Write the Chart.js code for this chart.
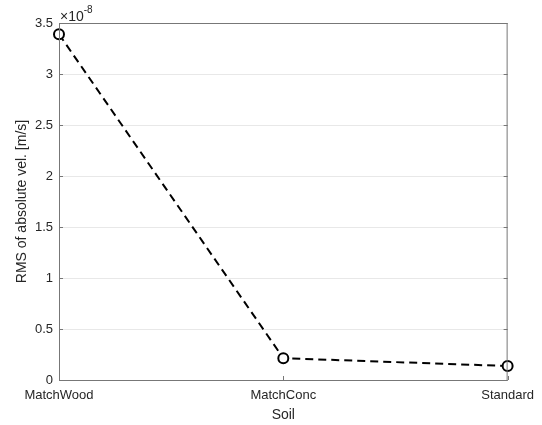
<!DOCTYPE html>
<html>
<head>
<meta charset="utf-8">
<script src="https://cdn.jsdelivr.net/npm/chart.js@4"></script>
<style>
  html, body { margin: 0; padding: 0; background: #fff; }
  #wrap { width: 542px; height: 425px; }
</style>
</head>
<body>
<div id="wrap"><canvas id="myChart" width="542" height="425"></canvas></div>
<script>
// data (values in units of 1e-8 m/s)
const soils = ['MatchWood', 'MatchConc', 'Standard'];
const rmsVel = [3.39, 0.214, 0.137];
const yTicks = [0, 0.5, 1, 1.5, 2, 2.5, 3, 3.5];
const exponent = '-8';

const axisColor = '#262626';
const boxColor = '#777777';
const fontFam = 'Liberation Sans, Arial, Helvetica, sans-serif';

// box, inward ticks and the x10^-8 label, like matlab
const matlabAxes = {
    id: 'matlabAxes',
    afterDraw(chart) {
        const c = chart.ctx;
        const a = chart.chartArea;
        const x = chart.scales.x;
        const y = chart.scales.y;
        c.save();
        c.strokeStyle = boxColor;
        c.lineWidth = 1;
        c.strokeRect(a.left + 0.5, a.top + 0.5, a.right - a.left - 1, a.bottom - a.top);
        c.beginPath();
        soils.forEach((s, i) => {
            const px = Math.round(x.getPixelForValue(i)) + 0.5;
            c.moveTo(px, a.bottom); c.lineTo(px, a.bottom - 4);
        });
        yTicks.forEach((v) => {
            const py = Math.round(y.getPixelForValue(v)) + 0.5;
            c.moveTo(a.left, py); c.lineTo(a.left + 4, py);
            c.moveTo(a.right, py); c.lineTo(a.right - 4, py);
        });
        c.stroke();

        c.fillStyle = axisColor;
        c.textBaseline = 'alphabetic';
        c.textAlign = 'left';
        c.font = '14px ' + fontFam;
        c.fillText('\u00d710', a.left + 1, a.top - 2);
        const w = c.measureText('\u00d710').width;
        c.font = '10px ' + fontFam;
        c.fillText(exponent, a.left + 1 + w, a.top - 10);
        c.restore();
    }
};

const ctx = document.getElementById('myChart');

new Chart(ctx, {
    type: 'line',
    data: {
        labels: soils,
        datasets: [{
            label: 'RMS',
            data: rmsVel,
            borderColor: '#000',
            borderWidth: 2,
            borderDash: [8, 5],
            pointRadius: 5,
            pointBorderWidth: 2,
            pointBackgroundColor: '#fff',
            pointBorderColor: '#000',
            tension: 0
        }]
    },
    options: {
        responsive: false,
        animation: false,
        layout: { padding: { left: 0, right: 33, top: 23, bottom: 0 } },
        plugins: {
            legend: { display: false },
            tooltip: { enabled: false }
        },
        scales: {
            x: {
                type: 'category',
                offset: false,
                grid: { display: false, drawTicks: false },
                border: { display: false },
                ticks: {
                    color: axisColor,
                    padding: 8,
                    maxRotation: 0,
                    font: { family: fontFam, size: 13 }
                },
                title: {
                    display: true,
                    text: 'Soil',
                    color: axisColor,
                    padding: { top: 0, bottom: 1 },
                    font: { family: fontFam, size: 14 }
                },
                afterFit: (s) => { s.height = 45; }
            },
            y: {
                min: 0,
                max: 3.5,
                afterBuildTicks: (s) => { s.ticks = yTicks.map((v) => ({ value: v })); },
                grid: { color: '#e8e8e8', drawTicks: false },
                border: { display: false },
                ticks: {
                    color: axisColor,
                    padding: 6,
                    font: { family: fontFam, size: 13 },
                    callback: (v) => String(v)
                },
                title: {
                    display: true,
                    text: 'RMS of absolute vel. [m/s]',
                    color: axisColor,
                    padding: { top: 14, bottom: 0 },
                    font: { family: fontFam, size: 14 }
                },
                afterFit: (s) => { s.width = 59; }
            }
        }
    },
    plugins: [matlabAxes]
});
</script>
</body>
</html>
